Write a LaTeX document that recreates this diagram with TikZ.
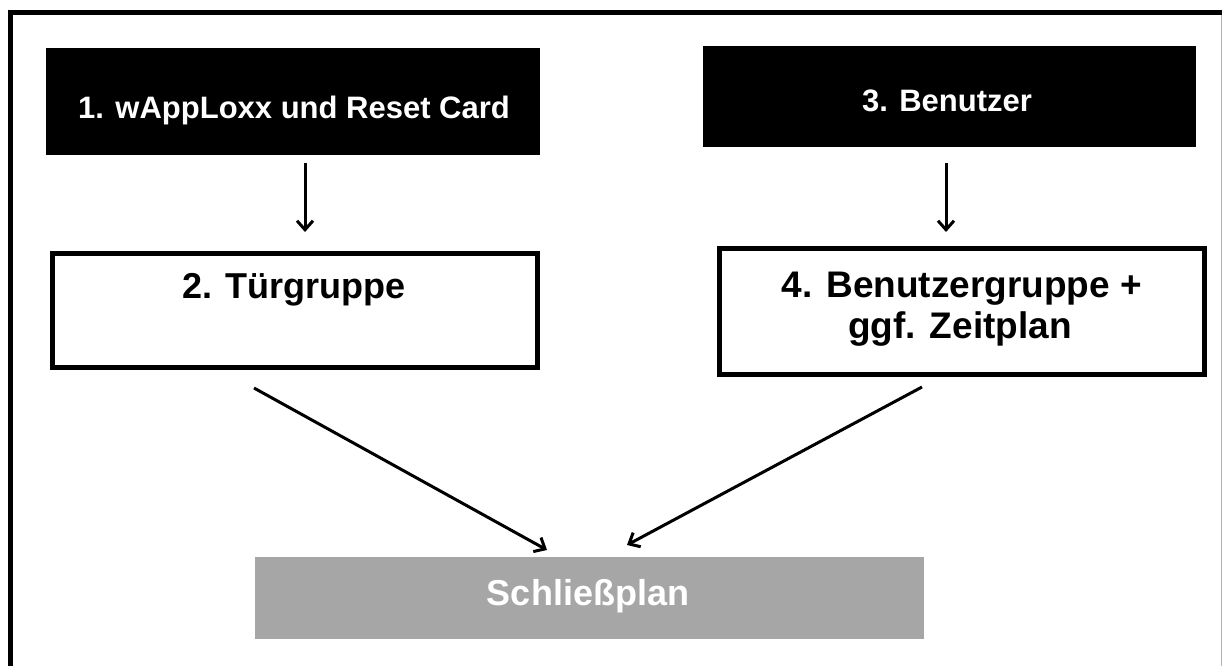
\documentclass[tikz,border=0pt]{standalone}
\usepackage{fontspec}
\setmainfont{Liberation Sans}
\usetikzlibrary{arrows.meta}
\definecolor{plangray}{HTML}{A6A6A6}
\tikzset{
  blackbox/.style={draw=none,fill=black,inner sep=0pt},
  whitebox/.style={draw=black,line width=5pt,fill=white,inner sep=0pt},
  graybox/.style={draw=none,fill=plangray,inner sep=0pt},
  lbl/.style={anchor=base,inner sep=0pt,font=\bfseries},
  arr/.style={line width=3pt,-{Straight Barb[length=9pt,width=16pt,line width=3pt]}},
  frame/.style={line width=5pt,black}
}
\begin{document}
\begin{tikzpicture}[x=1pt,y=-1pt]
\useasboundingbox (0,0) rectangle (1222,666);
\fill[white] (0,0) rectangle (1222,666);
% outer frame (cropped)
\draw[frame] (10.5,666) -- (10.5,12.5) -- (1222,12.5);
\draw[gray!60,line width=1pt] (1221,15) -- (1221,666);
% boxes
\node[blackbox,minimum width=494pt,minimum height=107pt] (b1) at (293,101.5) {};
\node[whitebox,minimum width=485pt,minimum height=114pt] (b2) at (295,310.5) {};
\node[blackbox,minimum width=493pt,minimum height=101pt] (b3) at (949.5,96.5) {};
\node[whitebox,minimum width=485pt,minimum height=126pt] (b4) at (962,311.5) {};
\node[graybox,minimum width=669pt,minimum height=82pt] (b5) at (589.5,598) {};
% texts
\node[lbl,text=white,font=\bfseries\fontsize{31}{36}\selectfont] (t1) at (294,118) {1. wAppLoxx und Reset Card};
\node[lbl,font=\bfseries\fontsize{36}{42}\selectfont] (t2) at (294,298) {2. Türgruppe};
\node[lbl,text=white,font=\bfseries\fontsize{31}{36}\selectfont] (t3) at (947,112) {3. Benutzer};
\node[lbl,font=\bfseries\fontsize{37}{43}\selectfont] (t4a) at (962,297) {4. Benutzergruppe +};
\node[lbl,font=\bfseries\fontsize{37}{43}\selectfont] (t4b) at (960,338) {ggf. Zeitplan};
\node[lbl,text=white,font=\bfseries\fontsize{36}{42}\selectfont] (t5) at (588,605) {Schließplan};
% arrow end coordinates
\coordinate (a1s) at (305,163);
\coordinate (a1e) at (305,232);
\coordinate (a2s) at (946,163);
\coordinate (a2e) at (946,232);
\coordinate (a3s) at (254,388);
\coordinate (a3e) at (547,550);
\coordinate (a4s) at (922,387);
\coordinate (a4e) at (627,545);
\draw[arr] (a1s) -- (a1e);
\draw[arr] (a2s) -- (a2e);
\draw[arr] (a3s) -- (a3e);
\draw[arr] (a4s) -- (a4e);
\end{tikzpicture}
\end{document}
